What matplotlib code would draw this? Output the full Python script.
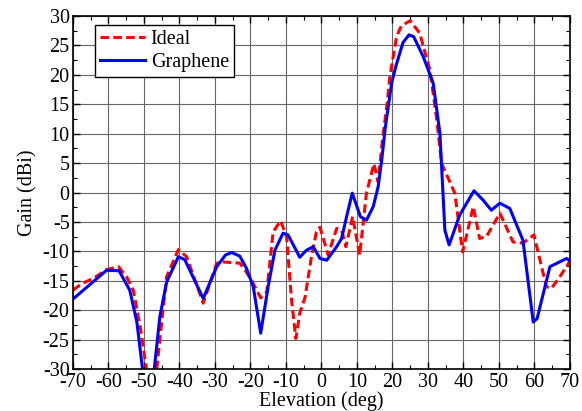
import numpy as np
import matplotlib
matplotlib.use('Agg')
import matplotlib.pyplot as plt
from matplotlib.ticker import MultipleLocator

plt.rcParams['font.family'] = ['Liberation Serif', 'DejaVu Serif']
plt.rcParams['axes.unicode_minus'] = False

# Ideal antenna pattern
ang_ideal = [-70, -67.6, -64.3, -60.5, -57.2, -54.9, -53, -51, -49.3, -47.8, -46.4,
             -45, -43.6, -40.3, -38, -33.3, -29.5, -27.7, -23, -21.5, -19.7, -17.1,
             -15.4, -13.6, -11.5, -9.8, -8.4, -7.2, -6.1, -4.6, -2.8, -1.4, -0.4,
             1.9, 4.3, 5.7, 6.9, 8.8, 10.8, 12.7, 14.8, 16.0, 17.2, 18.5, 19.3,
             21.2, 22.5, 25, 27.7, 30.6, 32.4, 33.9, 36.2, 37.6, 39.8, 42.8, 44.6,
             46.5, 50.3, 54, 56.8, 59.9, 63.4, 64.8, 67.2, 70]
gain_ideal = [-16.6, -15.5, -14.6, -13.1, -12.6, -14.3, -16.6, -23, -30, -36, -30,
              -22, -14.3, -9.7, -10.9, -18.8, -12.0, -11.8, -12.0, -13.2, -14.9, -17.9,
              -16.9, -6.7, -4.8, -7.5, -18.3, -24.8, -20.5, -17.8, -10.9, -6.7, -5.9,
              -10.6, -6.1, -6.4, -9.2, -4.1, -10.6, -0.1, 4.9, 1.8, 8.9, 15, 19.7,
              26.5, 28.3, 29.2, 27.1, 20.8, 12.9, 4.9, 1.8, -0.1, -10.1, -2.4, -7.8,
              -7.5, -3.5, -8.4, -8.6, -7.2, -16.0, -16.3, -14.3, -11.7]

# Graphene antenna pattern
ang_graph = [-70, -60.5, -57, -54, -52, -50.4, -48.7, -47.1, -45.5, -43.6, -40.3,
             -38.5, -33.3, -29.5, -27, -25.3, -23, -21.1, -19.2, -17.1, -15, -13.1,
             -10.8, -9.4, -7.9, -6.1, -4.2, -2.3, -0.4, 1.5, 4.3, 5.7, 7.1, 8.7,
             11.0, 12.7, 14.6, 16.0, 17.0, 18.0, 19.8, 21, 23, 24.7, 26, 28.7, 31.5,
             33.4, 34.8, 36, 39, 43, 45.6, 47.9, 50.3, 53.1, 56.8, 59.7, 60.8, 64.4,
             69.1, 70]
gain_graph = [-18.1, -13.2, -13.3, -16.6, -22, -30, -38, -30, -21, -15.2, -10.9,
              -11.4, -18.0, -12.6, -10.6, -10.2, -10.8, -12.9, -16.0, -23.9, -16.0, -9.8,
              -6.9, -7.2, -8.9, -11.0, -9.8, -9.2, -11.2, -11.5, -9.2, -7.8, -4.1, -0.1,
              -4.1, -4.7, -2.4, 1.0, 5.5, 11, 18.6, 21.5, 25.5, 26.8, 26.5, 23.1, 18.6,
              10.1, -6.4, -8.9, -3.8, 0.3, -1.3, -3.0, -1.8, -2.7, -8.1, -22.0, -21.4, -12.6,
              -11.2, -11.6]

fig = plt.figure(figsize=(5.82, 4.11), dpi=100)
ax = fig.add_axes([0.1254, 0.102, 0.8536, 0.859])

ax.plot(ang_ideal, gain_ideal, color='#ff0000', ls='--', lw=2.2, dashes=(2.8, 1.4), label='Ideal')
ax.plot(ang_graph, gain_graph, color='#0000ff', lw=2.2, label='Graphene')

ax.set_xlim(-70, 70)
ax.set_ylim(-30, 30)
ax.xaxis.set_major_locator(MultipleLocator(10))
ax.xaxis.set_minor_locator(MultipleLocator(5))
ax.yaxis.set_major_locator(MultipleLocator(5))
ax.yaxis.set_minor_locator(MultipleLocator(2.5))
ax.tick_params(which='both', direction='in', top=True, right=True, labelsize=14.5, pad=2.5)
ax.tick_params(which='major', length=5, width=1)
ax.tick_params(which='minor', length=3, width=0.8)
ax.grid(True, which='major', color='#666666', lw=0.8)
for s in ax.spines.values():
    s.set_linewidth(1.2)

ax.set_xlabel('Elevation (deg)', fontsize=14.5, labelpad=0)
ax.set_ylabel('Gain (dBi)', fontsize=14.5, labelpad=4)

leg = ax.legend(loc='upper left', bbox_to_anchor=(0.045, 0.975), fontsize=14.5,
                fancybox=False, framealpha=1, edgecolor='black', borderpad=0.25,
                handlelength=2.2, handletextpad=0.3, labelspacing=0.2, borderaxespad=0)
leg.get_frame().set_linewidth(1.0)

fig.savefig('out.png', dpi=100)
